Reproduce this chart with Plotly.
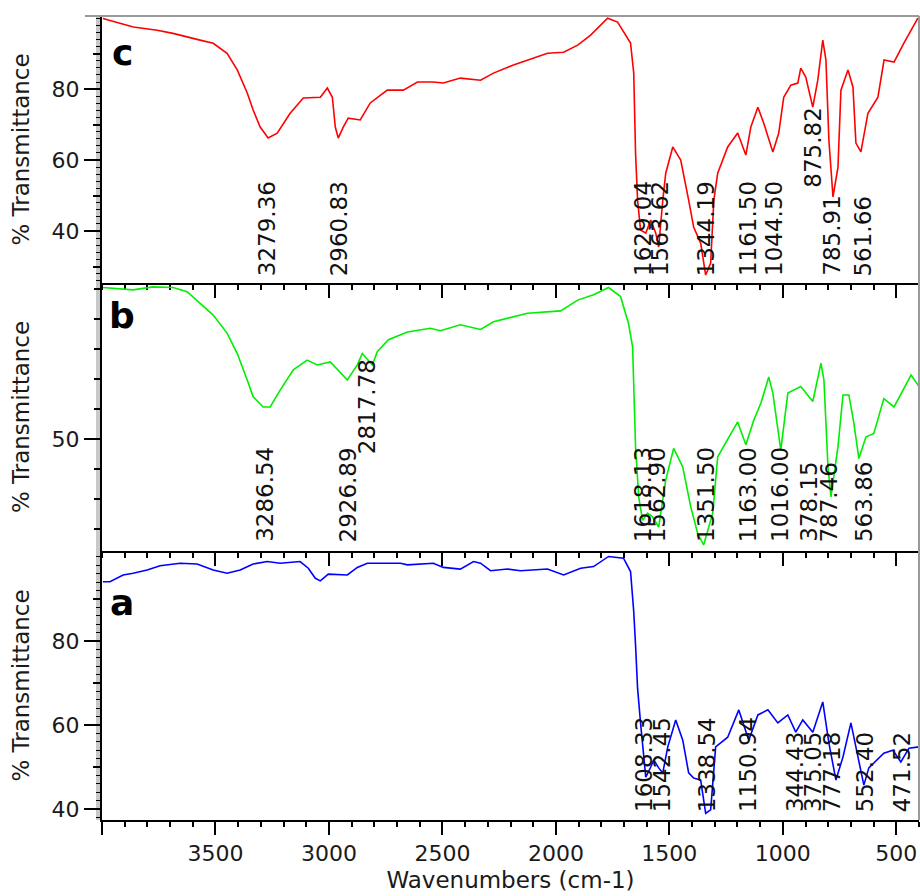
import plotly.graph_objects as go
from plotly.subplots import make_subplots

FONT = "DejaVu Sans"

# ---------------- data ----------------
# spectrum c (top, red)
c_wn = [3996, 3862, 3757, 3687, 3568, 3510, 3449, 3404, 3360, 3334, 3303, 3268, 3228, 3171, 3113,
        3038, 3007, 2985, 2972, 2959, 2937, 2915, 2862, 2818, 2743, 2672, 2610, 2540, 2496, 2421,
        2332, 2275, 2187, 2125, 2037, 1966, 1904, 1847, 1772, 1728, 1671, 1657, 1649, 1640, 1627,
        1604, 1582, 1560, 1547, 1529, 1516, 1485, 1450, 1415, 1393, 1362, 1340, 1318, 1304, 1287,
        1243, 1199, 1163, 1141, 1110, 1084, 1044, 1018, 996, 965, 934, 921, 899, 868, 846,
        824, 810, 797, 779, 757, 744, 713, 691, 678, 656, 625, 581, 554, 510, 466, 405]
c_T = [99.9, 97.5, 96.6, 95.7, 93.8, 92.9, 90.1, 85.4, 78.9, 74.1, 69.3, 66.2, 67.6, 73.2, 77.5,
       77.7, 80.3, 77.7, 69.3, 66.2, 69.3, 71.8, 71.3, 76.1, 79.7, 79.7, 82.0, 82.0, 81.7, 83.1,
       82.5, 84.5, 86.8, 88.2, 90.1, 90.4, 92.4, 95.2, 100.0, 98.9, 93.0, 84.5, 62.0, 48.7, 40.3,
       39.4, 43.1, 39.4, 35.5, 48.7, 56.3, 63.7, 60.0, 48.7, 41.1, 36.6, 27.6, 31.0, 48.7, 56.3,
       63.7, 67.6, 61.4, 69.3, 74.9, 70.4, 62.3, 67.6, 77.7, 81.1, 81.7, 85.9, 83.4, 74.9, 82.5,
       93.8, 88.2, 65.6, 49.6, 58.0, 79.7, 85.4, 80.6, 64.8, 62.3, 73.2, 77.7, 88.2, 87.6, 93.0, 100.0]

# spectrum b (middle, green)
b_wn = [3996, 3863, 3775, 3687, 3625, 3568, 3510, 3449, 3404, 3360, 3334, 3290, 3259, 3215, 3157,
        3096, 3051, 2994, 2919, 2875, 2853, 2809, 2787, 2738, 2654, 2553, 2509, 2421, 2332, 2275,
        2125, 1979, 1904, 1834, 1768, 1715, 1680, 1662, 1657, 1649, 1635, 1618, 1596, 1574, 1547,
        1516, 1481, 1441, 1406, 1375, 1349, 1309, 1287, 1243, 1199, 1163, 1128, 1097, 1062, 1044,
        1009, 978, 952, 921, 868, 832, 819, 801, 788, 757, 735, 709, 687, 665, 634,
        599, 555, 510, 435, 400]
b_T = [75.3, 74.9, 75.4, 75.3, 74.6, 72.7, 70.7, 67.7, 64.3, 59.9, 57.1, 55.4, 55.4, 58.2, 61.6,
       63.2, 62.4, 62.9, 59.9, 62.4, 64.3, 62.4, 64.6, 66.6, 67.9, 68.5, 68.1, 69.1, 68.3, 69.6,
       71.0, 71.4, 73.2, 74.1, 75.3, 73.8, 69.3, 65.4, 59.9, 48.8, 40.4, 36.5, 37.7, 37.1, 35.4,
       43.2, 48.5, 45.4, 38.8, 34.3, 32.4, 37.7, 47.1, 49.9, 52.9, 49.1, 53.2, 56.0, 60.4, 57.7,
       48.2, 57.7, 58.2, 58.8, 56.3, 62.7, 59.9, 45.4, 40.4, 48.8, 57.4, 57.4, 52.7, 46.8, 50.4,
       51.0, 56.8, 55.4, 60.7, 58.8]

# spectrum a (bottom, blue)
a_wn = [3996, 3965, 3907, 3863, 3801, 3744, 3656, 3581, 3510, 3449, 3391, 3334, 3272, 3215, 3127,
        3091, 3060, 3038, 3003, 2919, 2875, 2831, 2685, 2654, 2540, 2496, 2421, 2363, 2332, 2288,
        2213, 2156, 2037, 1966, 1891, 1834, 1768, 1702, 1671, 1657, 1649, 1640, 1627, 1604, 1582,
        1569, 1547, 1529, 1507, 1472, 1441, 1415, 1393, 1362, 1340, 1318, 1296, 1243, 1194, 1163,
        1150, 1110, 1066, 1022, 978, 943, 912, 868, 824, 797, 766, 735, 700, 669, 643,
        621, 555, 515, 480, 444, 400]
a_T = [94.1, 94.1, 95.7, 96.1, 96.9, 97.9, 98.5, 98.3, 96.9, 96.1, 96.9, 98.3, 98.9, 98.5, 98.9,
       97.3, 94.9, 94.3, 95.9, 95.7, 97.5, 98.5, 98.5, 98.1, 98.5, 97.5, 97.1, 98.9, 98.5, 96.7,
       97.1, 96.7, 97.1, 95.7, 97.3, 97.7, 100.1, 99.7, 96.5, 87.0, 79.0, 68.7, 60.5, 47.6, 50.0,
       51.7, 49.8, 48.6, 54.8, 61.2, 56.4, 48.6, 47.4, 46.9, 39.0, 39.8, 54.8, 57.1, 63.6, 58.1,
       56.4, 62.4, 63.6, 60.5, 62.4, 58.3, 61.2, 58.3, 65.5, 55.7, 46.9, 52.4, 60.5, 52.4, 45.7,
       49.8, 53.3, 54.0, 51.2, 54.5, 54.8]

# peak labels: text, and wavenumber where each label sits in the picture
c_labels = ["3279.36", "2960.83", "1629.04", "1563.62", "1344.19", "1161.50", "1044.50", "875.82", "785.91", "561.66"]
c_label_wn = [3275, 2957, 1619, 1544, 1340, 1156, 1042, 866, 781, 645]
c_label_raised = [False, False, False, False, False, False, False, True, False, False]

b_labels = ["3286.54", "2926.89", "2817.78", "1618.13", "1562.90", "1351.50", "1163.00", "1016.00", "378.15", "787.46", "563.86"]
b_label_wn = [3281, 2917, 2829, 1619, 1556, 1342, 1156, 1016, 882, 795, 643]
b_label_raised = [False, False, True, False, False, False, False, False, False, False, False]

a_labels = ["1608.33", "1542.45", "1338.54", "1150.94", "344.43", "375.05", "777.18", "552.40", "471.52"]
a_label_wn = [1611, 1535, 1336, 1153, 943, 868, 784, 638, 475]

x_tickvals = [4000, 3500, 3000, 2500, 2000, 1500, 1000, 500]
x_ticktext = ["", "3500", "3000", "2500", "2000", "1500", "1000", "500"]

# ---------------- figure ----------------
fig = make_subplots(rows=3, cols=1, shared_xaxes=True, vertical_spacing=0)

fig.add_trace(go.Scatter(x=c_wn, y=c_T, mode="lines", line=dict(color="#ff0000", width=1.6),
                         hoverinfo="skip"), row=1, col=1)
fig.add_trace(go.Scatter(x=b_wn, y=b_T, mode="lines", line=dict(color="#00ee00", width=1.6),
                         hoverinfo="skip"), row=2, col=1)
fig.add_trace(go.Scatter(x=a_wn, y=a_T, mode="lines", line=dict(color="#0000ff", width=1.6),
                         hoverinfo="skip"), row=3, col=1)

# empty traces so the overlay axes (medium ticks) get drawn
fig.add_trace(go.Scatter(x=[], y=[], xaxis="x", yaxis="y4", showlegend=False, hoverinfo="skip"))
fig.add_trace(go.Scatter(x=[], y=[], xaxis="x3", yaxis="y5", showlegend=False, hoverinfo="skip"))

d_top = [(820 - 283) / 804, 1.0]
d_mid = [(820 - 551) / 804, (820 - 283) / 804]
d_bot = [0.0, (820 - 551) / 804]

rng_c = [25.35, 100.6]
rng_b = [31.4, 76.05]
rng_a = [37.4, 101.4]

tickfont = dict(family=FONT, size=22, color="#1a1a1a")
titlefont = dict(family=FONT, size=23, color="#1a1a1a")

xcommon = dict(range=[4000, 400], showgrid=False, zeroline=False, showline=True,
               linecolor="black", linewidth=2, ticks="outside", tickmode="array",
               tickvals=x_tickvals, ticktext=x_ticktext, ticklen=13, tickwidth=1.5,
               tickcolor="black",
               minor=dict(dtick=100, tick0=0, ticks="outside", ticklen=5, tickwidth=1.5,
                          tickcolor="black", showgrid=False),
               tickfont=tickfont)

fig.update_layout(
    xaxis=dict(xcommon, showticklabels=False),
    xaxis2=dict(xcommon, showticklabels=False),
    xaxis3=dict(xcommon, showticklabels=True,
                title=dict(text="Wavenumbers (cm-1)", font=titlefont, standoff=6)),
)

ycommon = dict(showgrid=False, zeroline=False, showline=True, linecolor="black", linewidth=2,
               ticks="outside", ticklen=16, tickwidth=1.5, tickcolor="black", tickfont=tickfont,
               title=dict(text="% Transmittance", font=titlefont, standoff=16))

fig.update_layout(
    yaxis=dict(ycommon, domain=d_top, range=rng_c, tickmode="array", tickvals=[40, 60, 80],
               minor=dict(dtick=2, tick0=0, ticks="outside", ticklen=4, tickwidth=1.2,
                          tickcolor="black", showgrid=False)),
    yaxis2=dict(ycommon, domain=d_mid, range=rng_b, tickmode="array", tickvals=[50],
                minor=dict(dtick=5, tick0=0, ticks="outside", ticklen=6, tickwidth=1.5,
                           tickcolor="black", showgrid=False)),
    yaxis3=dict(ycommon, domain=d_bot, range=rng_a, tickmode="array", tickvals=[40, 60, 80],
                minor=dict(dtick=2, tick0=0, ticks="outside", ticklen=4, tickwidth=1.2,
                           tickcolor="black", showgrid=False)),
    yaxis4=dict(overlaying="y", anchor="x", side="left", range=rng_c, tickmode="array",
                tickvals=[30, 50, 70, 90], ticks="outside", ticklen=8, tickwidth=1.5,
                tickcolor="black", showticklabels=False, showline=False, showgrid=False,
                zeroline=False),
    yaxis5=dict(overlaying="y3", anchor="x3", side="left", range=rng_a, tickmode="array",
                tickvals=[50, 70, 90], ticks="outside", ticklen=8, tickwidth=1.5,
                tickcolor="black", showticklabels=False, showline=False, showgrid=False,
                zeroline=False),
)

annotations = []
lab_font = dict(family=FONT, size=23, color="#111111")


def add_labels(texts, wns, raised, xref, yref, y_low, y_high):
    for t, w, r in zip(texts, wns, raised):
        annotations.append(dict(text=t, x=w, y=(y_high if r else y_low), xref=xref, yref=yref,
                                textangle=-90, xanchor="center", yanchor="bottom",
                                showarrow=False, font=lab_font, borderpad=0))


add_labels(c_labels, c_label_wn, c_label_raised, "x", "y", 27.0, 52.0)
add_labels(b_labels, b_label_wn, b_label_raised, "x2", "y2", 32.7, 47.4)
add_labels(a_labels, a_label_wn, [False] * len(a_labels), "x3", "y3", 39.0, 39.0)

letter_font = dict(family=FONT, size=36, color="black")
for letter, yr, yy in [("c", "y domain", 0.865), ("b", "y2 domain", 0.877), ("a", "y3 domain", 0.81)]:
    annotations.append(dict(text="<b>%s</b>" % letter, x=0.025, y=yy, xref="x domain",
                            yref=yr, xanchor="center", yanchor="middle", showarrow=False,
                            font=letter_font))

W = 817.0
shapes = [
    # grey band along the left axes
    dict(type="rect", xref="paper", yref="paper", x0=-6 / W, x1=-1 / W, y0=0, y1=1,
         fillcolor="#c8c8c8", line=dict(width=0), layer="below"),
    # light-grey top and right borders
    dict(type="line", xref="paper", yref="paper", x0=-17 / W, x1=1, y0=1, y1=1,
         line=dict(color="#9a9a9a", width=2)),
    dict(type="line", xref="paper", yref="paper", x0=1, x1=1, y0=0, y1=1,
         line=dict(color="#9a9a9a", width=2)),
]

fig.update_layout(
    width=920, height=896,
    margin=dict(l=102, r=1, t=16, b=76),
    paper_bgcolor="white", plot_bgcolor="white",
    showlegend=False,
    font=dict(family=FONT, size=21, color="#1a1a1a"),
    annotations=annotations,
    shapes=shapes,
)

fig.write_html("out.html")
